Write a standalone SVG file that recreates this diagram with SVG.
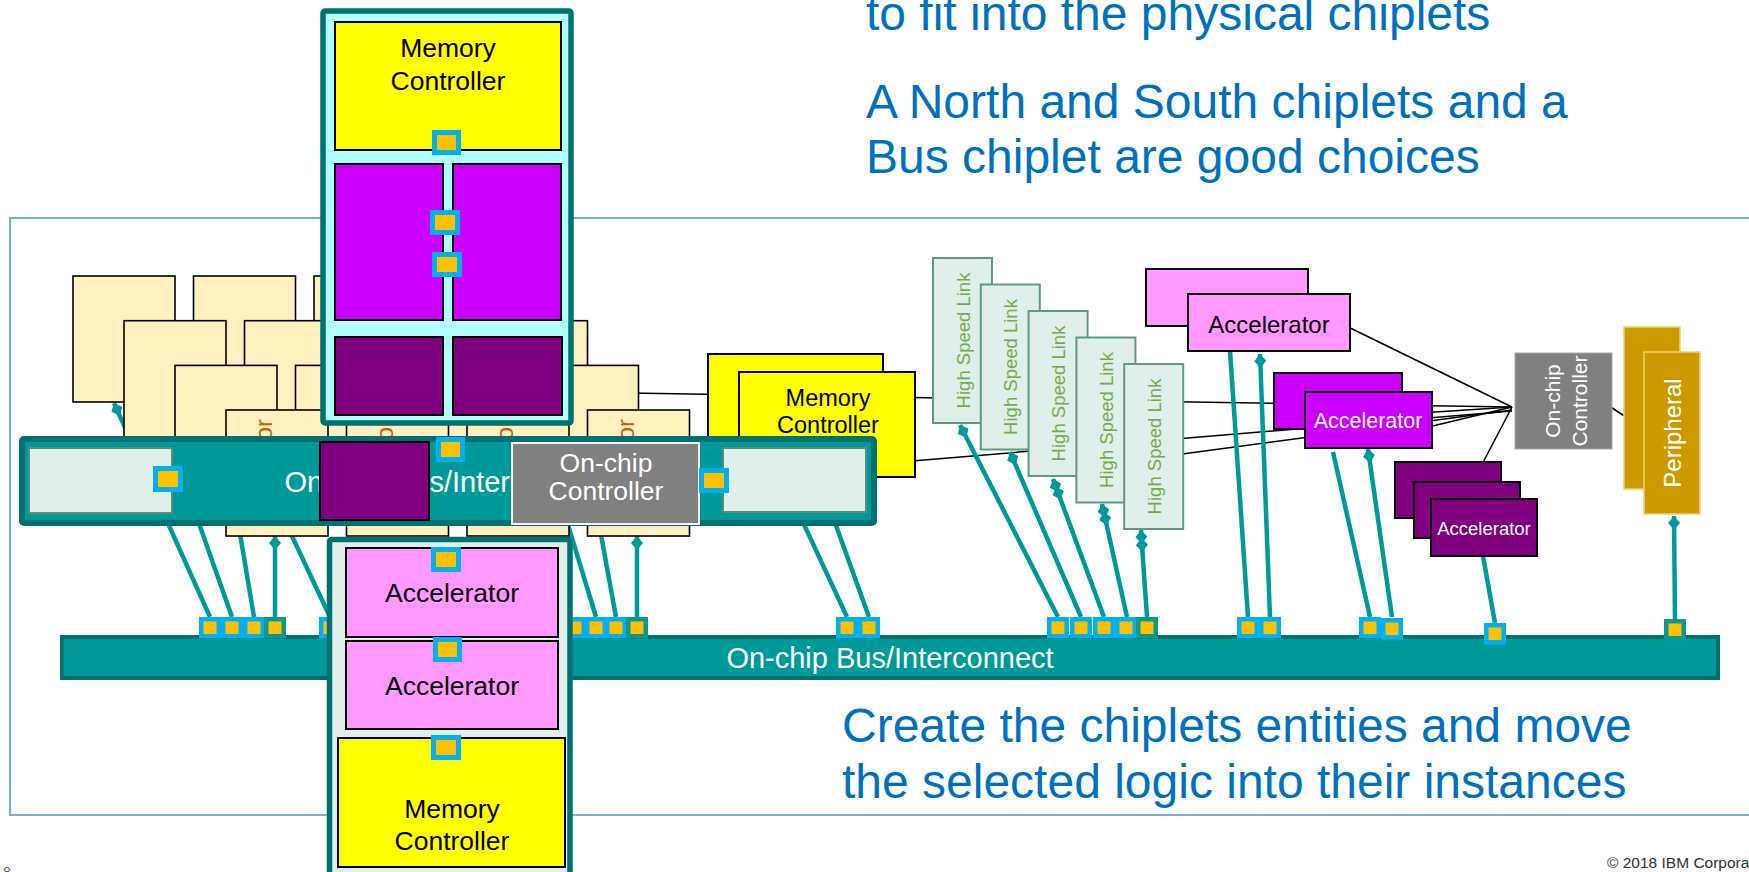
<svg xmlns="http://www.w3.org/2000/svg" width="1749" height="872" viewBox="0 0 1749 872">
  <defs>
    <style>
      text { font-family: 'Liberation Sans', Arial, sans-serif; }
      .frame { fill: none; stroke: #7aaed8; stroke-width: 2; }
      .wire { stroke: #000; stroke-width: 1.5; fill: none; }
      .conn { stroke: #009999; stroke-width: 4.5; fill: none; stroke-linecap: butt; }
      .tan { fill: #fff0c0; stroke: #000; stroke-width: 1.6; }
      .proc { fill: #c55a11; font-size: 24px; text-anchor: middle; }
      .bar { fill: #009999; stroke: #007070; }
      .bport { fill: #ffc000; stroke: #00b0f0; stroke-width: 4.5; }
      .tport { fill: #ffc000; stroke: #0a978f; stroke-width: 4.5; }
      .cport { fill: #ffc000; stroke: #00b0f0; stroke-width: 5; }
      .yel { fill: #ffff00; stroke: #000; stroke-width: 2; }
      .mag { fill: #cc00ff; stroke: #000; stroke-width: 2; }
      .pur { fill: #800080; stroke: #000; stroke-width: 2; }
      .pink { fill: #ff99ff; stroke: #000; stroke-width: 2; }
      .hsl { fill: #e0efea; stroke: #5b9a85; stroke-width: 2; }
      .hslt { fill: #70ad47; font-size: 18.5px; text-anchor: middle; }
      .lite { fill: #e0efea; stroke: #5d8c7c; stroke-width: 2; }
      .gray { fill: #808080; }
      .gold { fill: #cc9900; stroke: #f0d070; stroke-width: 1.5; }
      .lbl { fill: #000; text-anchor: middle; }
      .wlbl { fill: #fff; text-anchor: middle; }
      .blue { fill: #0070c0; font-size: 48px; }
    </style>
    <marker id="dia" markerUnits="userSpaceOnUse" markerWidth="14" markerHeight="12" viewBox="0 0 14 12" refX="0" refY="6" orient="auto">
      <path d="M0,6 L7,0 L14,6 L7,12 Z" fill="#009999"/>
    </marker>
  </defs>

  <!-- page frame -->
  <rect class="frame" x="10" y="218" width="1760" height="597"/>

  <!-- control wires from the on-chip controller -->
  <g id="wires">
    <line class="wire" x1="1512" y1="407" x2="630" y2="393"/>
    <line class="wire" x1="1512" y1="411" x2="900" y2="462"/>
    <line class="wire" x1="1512" y1="410" x2="1100" y2="465"/>
    <line class="wire" x1="1512" y1="407" x2="1340" y2="323"/>
    <line class="wire" x1="1512" y1="407" x2="1420" y2="413"/>
    <line class="wire" x1="1512" y1="407" x2="1420" y2="429"/>
    <line class="wire" x1="1512" y1="407" x2="1478" y2="472"/>
    <line class="wire" x1="1600" y1="400" x2="1632" y2="421"/>
  </g>

  <!-- bus connections -->
  <g id="connectors">
    <line class="conn" x1="114" y1="403" x2="210" y2="617" marker-start="url(#dia)"/>
    <line class="conn" x1="172" y1="447" x2="232" y2="617"/>
    <line class="conn" x1="233" y1="492" x2="254" y2="617"/>
    <line class="conn" x1="275" y1="536" x2="275" y2="617" marker-start="url(#dia)"/>
    <line class="conn" x1="229" y1="402" x2="330" y2="617"/>
    <line class="conn" x1="558" y1="492" x2="596" y2="617"/>
    <line class="conn" x1="585" y1="447" x2="616" y2="617"/>
    <line class="conn" x1="637" y1="536" x2="637" y2="617" marker-start="url(#dia)"/>
    <line class="conn" x1="782" y1="477" x2="847" y2="617"/>
    <line class="conn" x1="816" y1="470" x2="869" y2="617"/>
    <line class="conn" x1="960" y1="425" x2="1058" y2="617" marker-start="url(#dia)"/>
    <line class="conn" x1="1010" y1="452" x2="1081" y2="617" marker-start="url(#dia)"/>
    <polyline class="conn" points="1053,479 1055.8,486.5 1104,617" marker-start="url(#dia)" marker-mid="url(#dia)"/>
    <polyline class="conn" points="1102,504 1103.7,511.8 1127,617" marker-start="url(#dia)" marker-mid="url(#dia)"/>
    <polyline class="conn" points="1141,530 1141.5,538 1147,617" marker-start="url(#dia)" marker-mid="url(#dia)"/>
    <line class="conn" x1="1230" y1="351" x2="1248" y2="617"/>
    <line class="conn" x1="1260" y1="354" x2="1270" y2="617" marker-start="url(#dia)"/>
    <line class="conn" x1="1333" y1="452" x2="1370" y2="617"/>
    <line class="conn" x1="1368" y1="449" x2="1392" y2="617" marker-start="url(#dia)"/>
    <line class="conn" x1="1483" y1="556" x2="1495" y2="623"/>
    <line class="conn" x1="1674" y1="516" x2="1675" y2="621" marker-start="url(#dia)"/>
  </g>

  <!-- stacked processor instances -->
  <g id="processors">
    <rect class="tan" x="73" y="276" width="102" height="126"/>
    <rect class="tan" x="193.5" y="276" width="102" height="126"/>
    <rect class="tan" x="314" y="276" width="102" height="126"/>
    <rect class="tan" x="434.5" y="276" width="102" height="126"/>
    <rect class="tan" x="124" y="320.7" width="102" height="126"/>
    <rect class="tan" x="244.5" y="320.7" width="102" height="126"/>
    <rect class="tan" x="365" y="320.7" width="102" height="126"/>
    <rect class="tan" x="485.5" y="320.7" width="102" height="126"/>
    <rect class="tan" x="175" y="365.4" width="102" height="126"/>
    <rect class="tan" x="295.5" y="365.4" width="102" height="126"/>
    <rect class="tan" x="416" y="365.4" width="102" height="126"/>
    <rect class="tan" x="536.5" y="365.4" width="102" height="126"/>
    <rect class="tan" x="226" y="410" width="102" height="126"/>
    <text class="proc" transform="translate(272,473) rotate(-90)">Processor</text>
    <rect class="tan" x="346.5" y="410" width="102" height="126"/>
    <text class="proc" transform="translate(392.5,473) rotate(-90)">Processor</text>
    <rect class="tan" x="467" y="410" width="102" height="126"/>
    <text class="proc" transform="translate(513,473) rotate(-90)">Processor</text>
    <rect class="tan" x="587.5" y="410" width="102" height="126"/>
    <text class="proc" transform="translate(633.5,473) rotate(-90)">Processor</text>
  </g>

  <!-- main on-chip bus with its ports -->
  <g id="bus">
    <rect class="bar" x="62" y="637" width="1656" height="41" stroke-width="4"/>
    <text class="wlbl" x="890" y="668" font-size="29">On-chip Bus/Interconnect</text>
    <rect class="bport" x="201.25" y="619.25" width="17.5" height="17"/>
    <rect class="bport" x="223.25" y="619.25" width="17.5" height="17"/>
    <rect class="bport" x="245.25" y="619.25" width="17.5" height="17"/>
    <rect class="tport" x="266.25" y="619.25" width="17.5" height="17"/>
    <rect class="bport" x="321.25" y="619.25" width="17.5" height="17"/>
    <rect class="bport" x="566.25" y="619.25" width="17.5" height="17"/>
    <rect class="bport" x="587.25" y="619.25" width="17.5" height="17"/>
    <rect class="bport" x="607.25" y="619.25" width="17.5" height="17"/>
    <rect class="tport" x="628.25" y="619.25" width="17.5" height="17"/>
    <rect class="bport" x="838.25" y="619.25" width="17.5" height="17"/>
    <rect class="bport" x="860.25" y="619.25" width="17.5" height="17"/>
    <rect class="bport" x="1049.25" y="619.25" width="17.5" height="17"/>
    <rect class="bport" x="1072.25" y="619.25" width="17.5" height="17"/>
    <rect class="bport" x="1095.25" y="619.25" width="17.5" height="17"/>
    <rect class="bport" x="1117.25" y="619.25" width="17.5" height="17"/>
    <rect class="tport" x="1138.25" y="619.25" width="17.5" height="17"/>
    <rect class="bport" x="1239.25" y="619.25" width="17.5" height="17"/>
    <rect class="bport" x="1261.25" y="619.25" width="17.5" height="17"/>
    <rect class="bport" x="1361.25" y="619.25" width="17.5" height="17"/>
    <rect class="bport" x="1383.25" y="620.25" width="17.5" height="17"/>
    <rect class="bport" x="1486.25" y="625.25" width="17.5" height="17"/>
    <rect class="tport" x="1666.25" y="621.25" width="17.5" height="17"/>
  </g>

  <!-- memory controller pair -->
  <g id="memctl">
    <rect class="yel" x="708" y="354" width="175" height="105"/>
    <rect class="yel" x="739" y="372" width="176" height="105"/>
    <text class="lbl" x="828" y="406" font-size="23.5">Memory</text>
    <text class="lbl" x="828" y="433" font-size="23.5">Controller</text>
  </g>

  <!-- high speed links -->
  <g id="hslinks">
    <rect class="hsl" x="933" y="258" width="59" height="165"/>
    <text class="hslt" transform="translate(969.5,340.5) rotate(-90)">High Speed Link</text>
    <rect class="hsl" x="980.8" y="284.5" width="59" height="165"/>
    <text class="hslt" transform="translate(1017.3,367) rotate(-90)">High Speed Link</text>
    <rect class="hsl" x="1028.6" y="311" width="59" height="165"/>
    <text class="hslt" transform="translate(1065.1,393.5) rotate(-90)">High Speed Link</text>
    <rect class="hsl" x="1076.4" y="337.5" width="59" height="165"/>
    <text class="hslt" transform="translate(1112.9,420) rotate(-90)">High Speed Link</text>
    <rect class="hsl" x="1124.2" y="364" width="59" height="165"/>
    <text class="hslt" transform="translate(1160.7,446.5) rotate(-90)">High Speed Link</text>
  </g>

  <!-- accelerator groups -->
  <g id="accel-pink">
    <rect class="pink" x="1146" y="269" width="162" height="57"/>
    <rect class="pink" x="1188" y="294" width="162" height="57"/>
    <text class="lbl" x="1269" y="332.5" font-size="24">Accelerator</text>
  </g>
  <g id="accel-magenta">
    <rect class="mag" x="1274" y="373" width="128" height="56"/>
    <rect class="mag" x="1305" y="392" width="127" height="56"/>
    <text class="wlbl" x="1368" y="428" font-size="21.5">Accelerator</text>
  </g>
  <g id="accel-purple">
    <rect class="pur" x="1395" y="462" width="106" height="56"/>
    <rect class="pur" x="1414" y="482" width="106" height="56"/>
    <rect class="pur" x="1431" y="499" width="106" height="57"/>
    <text class="wlbl" x="1484" y="534.5" font-size="18.5">Accelerator</text>
  </g>

  <!-- on-chip controller -->
  <g id="ctl">
    <rect class="gray" x="1515" y="353" width="97" height="96" stroke="#a8a8a8" stroke-width="1"/>
    <text class="wlbl" font-size="21" transform="translate(1559.5,401) rotate(-90)">On-chip</text>
    <text class="wlbl" font-size="21" transform="translate(1586.5,401) rotate(-90)">Controller</text>
  </g>

  <!-- peripheral pair -->
  <g id="periph">
    <rect class="gold" x="1624" y="327" width="56" height="162"/>
    <rect class="gold" x="1644" y="352" width="56" height="162"/>
    <text class="wlbl" font-size="24" transform="translate(1681,433) rotate(-90)">Peripheral</text>
  </g>

  <!-- north chiplet -->
  <g id="north">
    <rect x="323" y="11" width="248" height="412" rx="2" fill="#b3ffff" stroke="#007070" stroke-width="5.5"/>
    <rect class="yel" x="335" y="22" width="226" height="128"/>
    <text class="lbl" x="448" y="57" font-size="26.5">Memory</text>
    <text class="lbl" x="448" y="90" font-size="26.5">Controller</text>
    <rect class="mag" x="335" y="164" width="108" height="156"/>
    <rect class="mag" x="453" y="164" width="108" height="156"/>
    <rect class="pur" x="335" y="337" width="108" height="78"/>
    <rect class="pur" x="453" y="337" width="109" height="78"/>
    <rect class="cport" x="434.5" y="132.5" width="24" height="20"/>
    <rect class="cport" x="432.5" y="212.5" width="25" height="20"/>
    <rect class="cport" x="434.5" y="254.5" width="25" height="20"/>
  </g>

  <!-- bus chiplet -->
  <g id="buschiplet">
    <rect x="22" y="439" width="852" height="84" rx="2" fill="#009999" stroke="#007070" stroke-width="6"/>
    <rect class="lite" x="29" y="448" width="143" height="65"/>
    <rect class="lite" x="723" y="448" width="143" height="64"/>
    <text class="wlbl" x="448" y="492" font-size="29">On-chip Bus/Interconnect</text>
    <rect class="pur" x="320" y="442" width="109" height="78"/>
    <rect class="gray" x="512" y="443" width="187" height="81" stroke="#f4f4f4" stroke-width="2"/>
    <text class="wlbl" x="606" y="472" font-size="26.5">On-chip</text>
    <text class="wlbl" x="606" y="500" font-size="26.5">Controller</text>
    <rect class="cport" x="155.5" y="468.5" width="25" height="21"/>
    <rect class="cport" x="438.5" y="439.5" width="24" height="20"/>
    <rect class="cport" x="701.5" y="470.5" width="25" height="20"/>
  </g>

  <!-- south chiplet -->
  <g id="south">
    <rect x="329.5" y="539.5" width="240.5" height="345" rx="2" fill="#e0efea" stroke="#007070" stroke-width="5.5"/>
    <rect class="pink" x="346" y="548" width="212" height="89"/>
    <text class="lbl" x="452" y="601.5" font-size="26.5">Accelerator</text>
    <rect class="pink" x="346" y="641" width="212" height="88"/>
    <text class="lbl" x="452" y="695" font-size="26.5">Accelerator</text>
    <rect class="yel" x="338" y="738" width="227" height="129"/>
    <text class="lbl" x="452" y="818" font-size="26.5">Memory</text>
    <text class="lbl" x="452" y="850" font-size="26.5">Controller</text>
    <rect class="cport" x="433.5" y="549.5" width="25" height="20"/>
    <rect class="cport" x="435.5" y="639.5" width="24" height="20"/>
    <rect class="cport" x="433.5" y="737.5" width="25" height="20"/>
  </g>

  <!-- slide text -->
  <g id="notes">
    <text class="blue" x="866" y="30">to fit into the physical chiplets</text>
    <text class="blue" x="866" y="118">A North and South chiplets and a</text>
    <text class="blue" x="866" y="173">Bus chiplet are good choices</text>
    <text class="blue" x="842" y="742">Create the chiplets entities and move</text>
    <text class="blue" x="842" y="798">the selected logic into their instances</text>
    <text x="1607" y="868" font-size="15.5" fill="#333">© 2018 IBM Corporation</text>
    <text x="3" y="877" font-size="14" fill="#666">8</text>
  </g>
</svg>
